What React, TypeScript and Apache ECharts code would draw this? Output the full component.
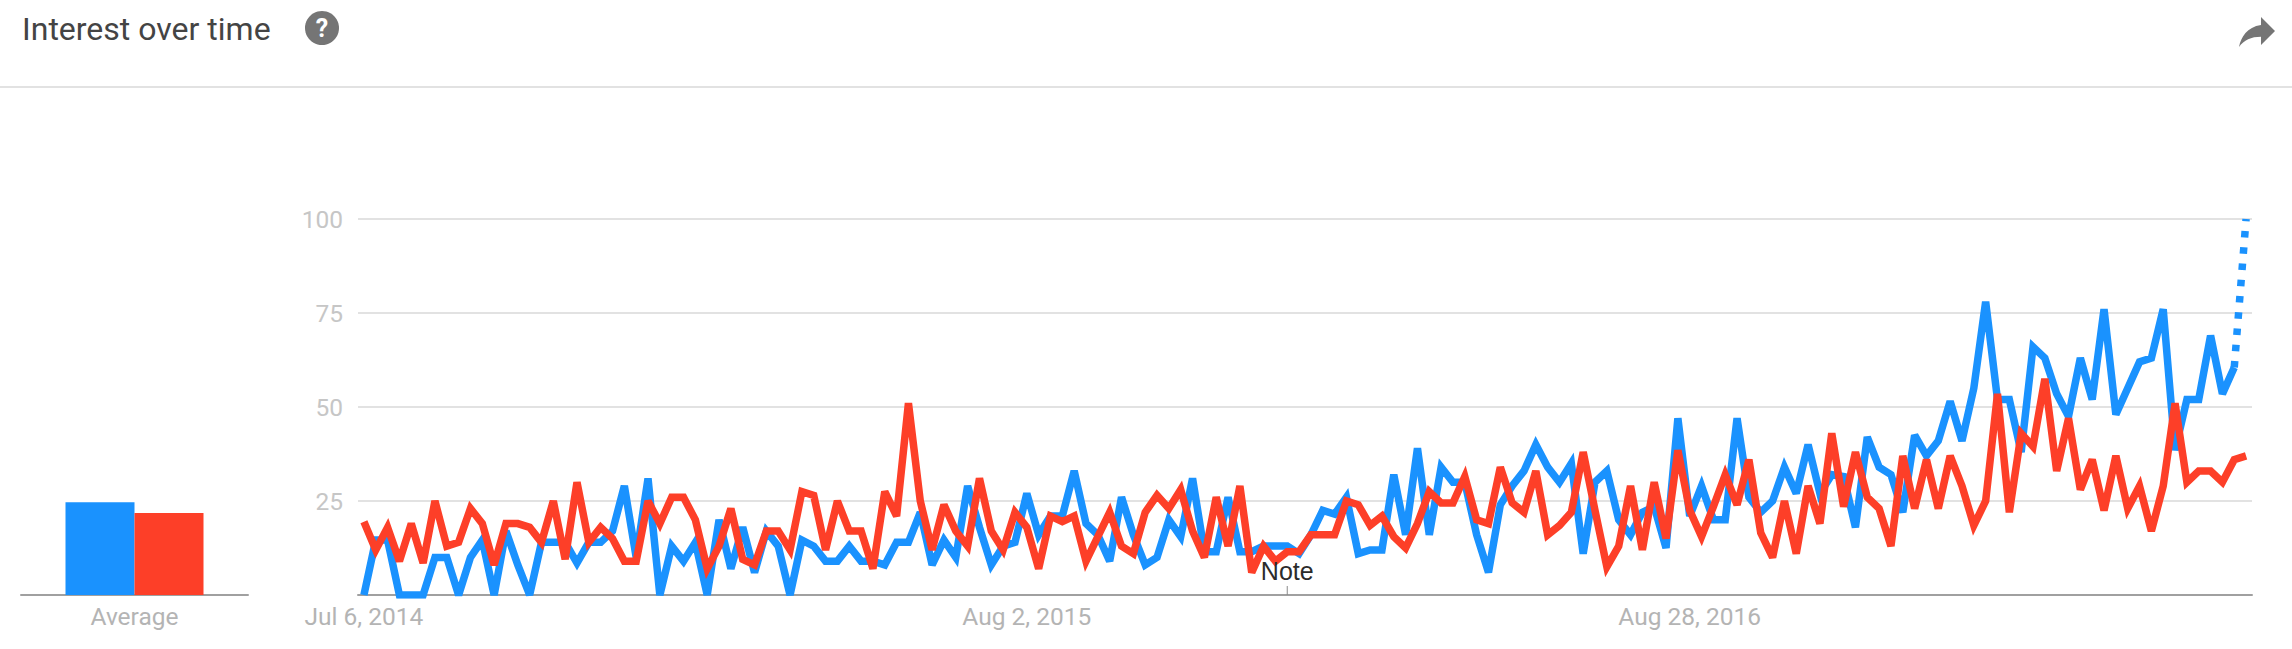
import React, { useEffect, useRef } from "react";
import * as echarts from "echarts";

const blueValues = [
  0, 14.6, 14.6, 0, 0, 0, 10, 10, 0, 10, 14.6, 0, 17, 8, 0, 14, 14, 14, 8.5, 14,
  14, 17, 29, 10, 31, 0, 13, 9, 14, 0, 20, 7, 18, 6, 17, 13, 0, 14.6, 13, 9,
  9, 13, 9, 9, 8, 14, 14, 22, 8, 14.6, 10, 29, 18, 8, 13, 14, 27, 16, 21, 21,
  33, 19, 16, 9, 26, 16, 8, 10, 20, 15.5, 31, 11.5, 11.5, 26, 11.5, 11.5, 13, 13, 13, 11,
  16, 22.5, 21.5, 26, 11, 12, 12, 32, 16, 39, 16, 34, 30, 30, 16, 6, 24, 29, 33, 40,
  34, 30, 35, 11, 30, 33, 20, 16, 22, 23.5, 12.5, 47, 21, 29, 20, 20, 47, 26, 22, 25,
  34, 27, 40, 27, 32, 31.5, 18, 42, 34, 32, 22, 42.5, 37, 41, 51.5, 41, 55, 78, 52, 52,
  38, 66, 63, 53.5, 47.5, 63, 52, 76, 48, 55, 62, 63, 76, 38.5, 52, 52, 69, 53.5, 60.5,
];
const blueForecast = [60.5, 100];
const redValues = [
  19.5, 12, 18, 9, 19, 8.5, 25, 13, 14, 23, 19, 8, 19, 19, 18, 14, 25, 9.5, 30, 14,
  18, 15, 9, 9, 25, 19, 26, 26, 20, 7, 13, 23, 9.5, 8, 17, 17, 12, 27.5, 26.5, 12,
  25, 17, 17, 7, 27.5, 21, 51, 25, 12, 24, 17, 13, 31, 17, 12, 22, 18, 7, 21, 19.5,
  21, 9, 15.5, 22, 13, 11, 22, 26.5, 23, 28, 17, 10, 26, 13, 29, 6, 13, 9, 11.5, 11.5,
  16, 16, 16, 25, 24, 18.5, 21, 15.5, 12.5, 19, 27.5, 24.5, 24.5, 31.5, 20, 19, 34, 24.5, 22, 33,
  16, 18.5, 22, 38, 22.5, 7.5, 13, 29, 12, 30, 15, 38.5, 22.5, 15.5, 23.5, 32, 24, 36, 16.5, 10,
  25, 11, 29, 19, 43, 23.5, 38, 26, 23, 13, 37, 23, 36, 23, 37, 29, 18.5, 25, 53.5, 22,
  43, 39.5, 57.5, 33, 47, 28, 36, 22.5, 37, 23, 29, 17, 29, 51, 30, 33, 33, 30, 36, 37,
];
const averageBlue = [24.7];
const averageRed = [21.8];
const averageCategories = ["Average"];
const yTicks = [25, 50, 75, 100];
const xTickLabels: Record<number, string> = { 0: "Jul 6, 2014", 56: "Aug 2, 2015", 112: "Aug 28, 2016" };
const noteIndex = 78;
const weekIndexes = Array.from({ length: 160 }, (_, i) => String(i));

const BLUE = "#1A92FE";
const RED = "#FD3F28";

const forecastData = weekIndexes.map((_, i) => (i >= 158 ? blueForecast[i - 158] : null));

echarts.graphic.registerShape(
  "shareArrow",
  echarts.graphic.extendPath("M14 9V5l7 7-7 7v-4.1c-5 0-8.5 1.6-11 5.1 1-5 4-10 11-11z", {})
);

const labelFont = { fontFamily: "Roboto", fontSize: 24.5, color: "#b4b4b4" };

export default function App() {
  const ref = useRef<HTMLDivElement>(null);
  useEffect(() => {
    document.body.style.margin = "0";
    document.body.style.background = "#fff";
    const chart = echarts.init(ref.current!, null, { renderer: "svg" });
    chart.setOption({
      animation: false,
      backgroundColor: "#ffffff",
      grid: [
        { left: 21, width: 227, top: 219, bottom: 54 },
        { left: 358, width: 1894, top: 219, bottom: 54 },
      ],
      xAxis: [
        {
          gridIndex: 0, type: "category", data: averageCategories,
          axisLine: { lineStyle: { color: "#a0a0a0", width: 2 } }, axisTick: { show: false },
          axisLabel: { ...labelFont, margin: 9 },
        },
        {
          gridIndex: 1, type: "category", data: weekIndexes, boundaryGap: true,
          axisLine: { lineStyle: { color: "#a0a0a0", width: 2 } }, axisTick: { show: false },
          axisLabel: {
            ...labelFont, margin: 9, showMinLabel: true, hideOverlap: false,
            interval: (i: number) => xTickLabels[i] !== undefined,
            formatter: (_: string, i: number) => xTickLabels[i] ?? "",
          },
        },
      ],
      yAxis: [
        { gridIndex: 0, type: "value", min: 0, max: 100, interval: 25, show: false },
        {
          gridIndex: 1, type: "value", min: 0, max: 100, interval: 25,
          axisLine: { show: false }, axisTick: { show: false },
          axisLabel: { ...labelFont, color: "#c6c6c6", margin: 15, formatter: (v: number) => (yTicks.includes(v) ? String(v) : "") },
          splitLine: { lineStyle: { color: "#e2e2e2", width: 2 } },
        },
      ],
      series: [
        { type: "bar", name: "Blue average", xAxisIndex: 0, yAxisIndex: 0, data: averageBlue, barWidth: 69, barGap: 0, itemStyle: { color: BLUE } },
        { type: "bar", name: "Red average", xAxisIndex: 0, yAxisIndex: 0, data: averageRed, barWidth: 69, barGap: 0, itemStyle: { color: RED } },
        {
          type: "line", name: "Blue", xAxisIndex: 1, yAxisIndex: 1, data: blueValues, showSymbol: false, symbol: "none",
          lineStyle: { color: BLUE, width: 7.5, join: "miter", miterLimit: 3 }, z: 3,
        },
        {
          type: "line", name: "Blue partial", xAxisIndex: 1, yAxisIndex: 1, data: forecastData, showSymbol: false, symbol: "none",
          lineStyle: { color: BLUE, width: 7.5, type: [6.5, 9.8] }, z: 3,
        },
        {
          type: "line", name: "Red", xAxisIndex: 1, yAxisIndex: 1, data: redValues, showSymbol: false, symbol: "none",
          lineStyle: { color: RED, width: 7.5, join: "miter", miterLimit: 3 }, z: 4,
          markPoint: {
            symbol: "rect", symbolSize: [1, 9], silent: true,
            itemStyle: { color: "#8a8a8a" },
            label: { show: true, formatter: "Note", position: "top", distance: 2, fontFamily: "Liberation Sans", fontSize: 25, color: "#2b2b2b" },
            data: [{ coord: [noteIndex, 1.2] }],
            z: 8,
          },
        },
      ],
      graphic: [
        { type: "text", x: 22, y: 29, style: { text: "Interest over time", fontFamily: "Roboto", fontSize: 32, fill: "#444444", verticalAlign: "middle" } },
        { type: "circle", shape: { cx: 322, cy: 28, r: 17 }, style: { fill: "#757575" } },
        { type: "text", x: 322, y: 28, style: { text: "?", fontFamily: "Roboto", fontWeight: "bold", fontSize: 25, fill: "#ffffff", align: "center", verticalAlign: "middle" } },
        { type: "line", shape: { x1: 0, y1: 87, x2: 2292, y2: 87 }, style: { stroke: "#e2e2e2", lineWidth: 2 } },
        { type: "shareArrow", x: 2233, y: 7, scaleX: 2, scaleY: 2, style: { fill: "#757575" } },
      ],
    });
    return () => chart.dispose();
  }, []);
  return <div ref={ref} style={{ position: "absolute", left: 0, top: 0, width: 2292, height: 649 }} />;
}
